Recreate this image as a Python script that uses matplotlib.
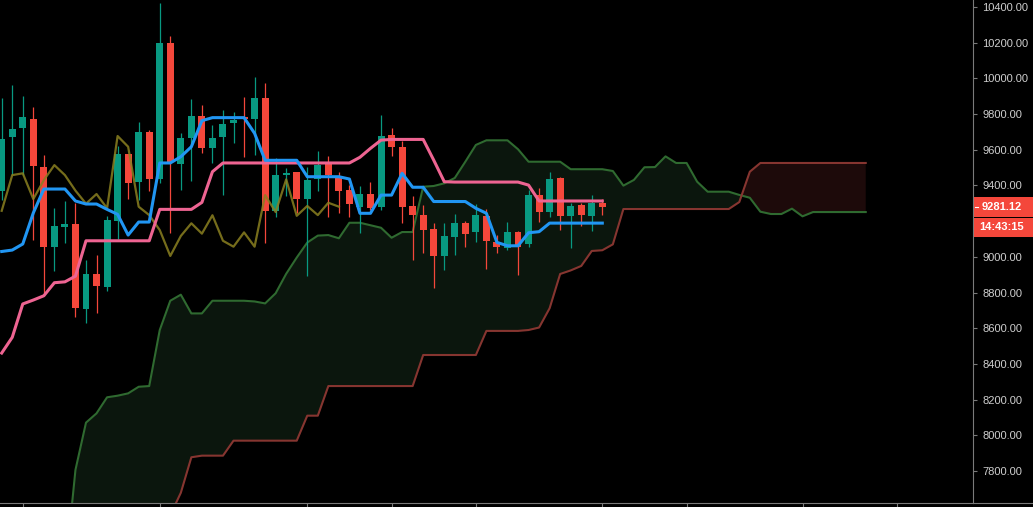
import numpy as np
import matplotlib
matplotlib.use("Agg")
import matplotlib.pyplot as plt
from matplotlib import transforms
from matplotlib.patches import Rectangle
from matplotlib.lines import Line2D

plt.rcParams['font.family'] = ['Liberation Sans', 'DejaVu Sans']

# candles, oldest first
OPEN = [9371, 9670, 9724, 9772, 9503, 9057, 9169, 9184, 8709, 8904,
        8833, 9202, 9576, 9421, 9699, 9438, 10198, 9518, 9664, 9789,
        9611, 9670, 9752, 9785, 9774, 9890, 9258, 9460, 9474, 9324,
        9434, 9518, 9449, 9374, 9281, 9352, 9281, 9681, 9615, 9285,
        9234, 9156, 9006, 9113, 9188, 9137, 9229, 9085, 9051, 9137,
        9074, 9346, 9253, 9440, 9230, 9290, 9230, 9300]
HIGH = [9888, 9963, 9901, 9840, 9571, 9274, 9313, 9302, 8982, 9010,
        9229, 9623, 9578, 9755, 9711, 10421, 10237, 9692, 9884, 9851,
        9739, 9823, 9810, 9894, 10006, 9974, 9552, 9496, 9476, 9502,
        9593, 9565, 9475, 9402, 9397, 9419, 9795, 9720, 9649, 9341,
        9290, 9189, 9188, 9240, 9201, 9294, 9266, 9122, 9195, 9145,
        9374, 9386, 9475, 9449, 9303, 9303, 9346, 9324]
LOW = [9318, 9458, 9458, 9094, 8797, 8922, 9079, 8664, 8631, 8687,
       8810, 9098, 9324, 9318, 9371, 9412, 9132, 9374, 9427, 9583,
       9524, 9346, 9636, 9561, 9571, 9076, 9225, 9341, 9244, 8893,
       9371, 9225, 9247, 9221, 9135, 9262, 9262, 9565, 9191, 8982,
       9020, 8827, 8926, 9010, 9057, 9085, 8933, 9023, 9038, 8900,
       9057, 9197, 9225, 9150, 9051, 9173, 9146, 9234]
CLOSE = [9659, 9715, 9782, 9511, 9057, 9173, 9182, 8715, 8904, 8838,
         9206, 9576, 9415, 9699, 9438, 10198, 9530, 9664, 9789, 9611,
         9664, 9744, 9767, 9771, 9890, 9258, 9458, 9468, 9324, 9430,
         9514, 9458, 9371, 9298, 9352, 9272, 9677, 9617, 9281, 9234,
         9150, 9005, 9117, 9188, 9130, 9233, 9090, 9057, 9137, 9057,
         9346, 9251, 9434, 9230, 9285, 9234, 9303, 9281.12]

# conversion line (blue) and base line (pink)
TENKAN = [9030, 9038, 9072, 9246, 9380, 9380, 9380, 9313, 9296, 9296,
          9266, 9238, 9122, 9195, 9195, 9526, 9526, 9561, 9617, 9763,
          9780, 9780, 9780, 9780, 9692, 9541, 9541, 9541, 9541, 9449,
          9449, 9449, 9449, 9436, 9244, 9244, 9346, 9346, 9468, 9390,
          9390, 9310, 9310, 9310, 9310, 9272, 9244, 9081, 9062, 9062,
          9135, 9141, 9189, 9189, 9189, 9189, 9189, 9189]
KIJUN = [8461, 8549, 8736, 8758, 8782, 8855, 8860, 8892, 9090, 9090,
         9090, 9090, 9090, 9090, 9090, 9266, 9266, 9266, 9266, 9305,
         9477, 9526, 9526, 9526, 9526, 9526, 9526, 9526, 9526, 9526,
         9526, 9526, 9526, 9526, 9558, 9608, 9654, 9658, 9658, 9658,
         9658, 9542, 9421, 9419, 9419, 9419, 9419, 9419, 9419, 9419,
         9402, 9313, 9313, 9313, 9313, 9313, 9313, 9313]

# leading spans, first value sits at bar SPAN_START
SPAN_START = 6
SPAN_A = [7217, 7806, 8071, 8123, 8213, 8222, 8235, 8272, 8276, 8590,
          8754, 8788, 8683, 8683, 8754, 8754, 8754, 8754, 8750, 8739,
          8796, 8905, 8996, 9080, 9119, 9122, 9104, 9191, 9191, 9177,
          9163, 9107, 9139, 9139, 9393, 9397, 9412, 9442, 9533, 9627,
          9653, 9653, 9653, 9603, 9533, 9533, 9533, 9533, 9491, 9491,
          9491, 9491, 9481, 9399, 9431, 9502, 9503, 9563, 9526, 9526,
          9421, 9365, 9365, 9365, 9347, 9331, 9253, 9240, 9240, 9270,
          9227, 9251, 9251, 9251, 9251, 9251, 9251]
SPAN_B = [7300, 7300, 7300, 7300, 7300, 7300, 7300, 7300, 7300, 7420,
          7553, 7678, 7877, 7886, 7886, 7886, 7970, 7970, 7970, 7970,
          7970, 7970, 7970, 8110, 8110, 8276, 8276, 8276, 8276, 8276,
          8276, 8276, 8276, 8276, 8450, 8450, 8450, 8450, 8450, 8450,
          8585, 8585, 8585, 8585, 8590, 8604, 8712, 8904, 8924, 8949,
          9033, 9037, 9070, 9268, 9268, 9268, 9268, 9268, 9268, 9268,
          9268, 9268, 9268, 9268, 9307, 9477, 9526, 9526, 9526, 9526,
          9526, 9526, 9526, 9526, 9526, 9526, 9526]
LAG = 25

PRICE_TICKS = list(range(7800, 10401, 200))
TIME_TICK_BARS = [2, 15, 29, 37, 45, 57, 65, 76, 85]
LAST_PRICE = 9281.12
COUNTDOWN = "14:43:15"

UP = '#089981'
DOWN = '#f4473b'
AXIS = '#7a7a7a'

W, H = 1033, 507
fig = plt.figure(figsize=(W / 100, H / 100), dpi=100, facecolor='black')
ax = fig.add_axes([0, 4 / H, 973 / W, 503 / H], facecolor='black')

bars = np.arange(len(CLOSE))
o = np.array(OPEN, float)
c = np.array(CLOSE, float)
up = c >= o
cols = np.where(up, UP, DOWN)

# cloud
span_x = np.arange(len(SPAN_A)) + SPAN_START
a = np.array(SPAN_A, float)
b = np.array(SPAN_B, float)
ax.fill_between(span_x, a, b, where=a >= b, interpolate=True, color='#0b160d', lw=0, zorder=1)
ax.fill_between(span_x, a, b, where=a < b, interpolate=True, color='#1d0a0a', lw=0, zorder=1)
ax.plot(span_x, a, color='#2f6a30', lw=1.5, zorder=2)
ax.plot(span_x, b, color='#863530', lw=1.5, zorder=2)

# candles
ax.vlines(bars, LOW, HIGH, colors=cols, lw=0.9, zorder=3)
body = np.maximum(np.abs(c - o), 7)
ax.bar(bars, body, bottom=np.minimum(o, c), width=0.66, color=cols, lw=0, zorder=4)

# lagging span = closes pushed back
ax.plot(bars[LAG:] - LAG, c[LAG:], color='#8a8020', lw=1.6, alpha=0.85, zorder=5)
ax.plot(bars, KIJUN, color='#ee6492', lw=2.2, zorder=6, solid_joinstyle='round')
ax.plot(bars, TENKAN, color='#2196f3', lw=2.2, zorder=7, solid_joinstyle='round')

ax.set_xlim(-0.161, 92.18)
ax.set_ylim(7620.7, 10439.2)

for s in ['top', 'left']:
    ax.spines[s].set_visible(False)
ax.spines['right'].set_color(AXIS)
ax.spines['bottom'].set_color(AXIS)
ax.spines['right'].set_linewidth(0.8)
ax.spines['bottom'].set_linewidth(0.8)

ax.yaxis.tick_right()
ax.set_yticks(PRICE_TICKS)
# the 9200 label sits under the price tags, so leave it blank
ax.set_yticklabels(["" if p == 9200 else f"{p:.2f}" for p in PRICE_TICKS])
ax.tick_params(axis='y', colors=AXIS, labelcolor='#cfcfcf', length=3, width=0.8,
               labelsize=8, pad=3.5)
ax.set_xticks(TIME_TICK_BARS)
ax.set_xticklabels([])
ax.tick_params(axis='x', colors=AXIS, length=3, width=0.8)

# bottom line continues under the price scale
fig.add_artist(Line2D([973 / W, 1], [4 / H, 4 / H], transform=fig.transFigure, color=AXIS, lw=0.8))

# last price and countdown tags
px = (10439.2 - 7620.7) / 503
tr = transforms.blended_transform_factory(fig.transFigure, ax.transData)
fig.add_artist(Rectangle((973.5 / W, LAST_PRICE - 10 * px), 60 / W, 20 * px,
                         transform=tr, color=DOWN, lw=0, zorder=5))
fig.add_artist(Rectangle((973.5 / W, LAST_PRICE - 30 * px), 60 / W, 19 * px,
                         transform=tr, color=DOWN, lw=0, zorder=5))
fig.add_artist(Line2D([975 / W, 978 / W], [LAST_PRICE, LAST_PRICE], transform=tr,
                      color='white', lw=0.8, zorder=6))
fig.text(1002 / W, LAST_PRICE, f"{LAST_PRICE:.2f}", transform=tr, color='white',
         fontsize=8, fontweight='bold', ha='center', va='center', zorder=7)
fig.text(1002 / W, LAST_PRICE - 20.5 * px, COUNTDOWN, transform=tr, color='white',
         fontsize=8, fontweight='bold', ha='center', va='center', zorder=7)

fig.savefig('out.png', dpi=100, facecolor='black')
